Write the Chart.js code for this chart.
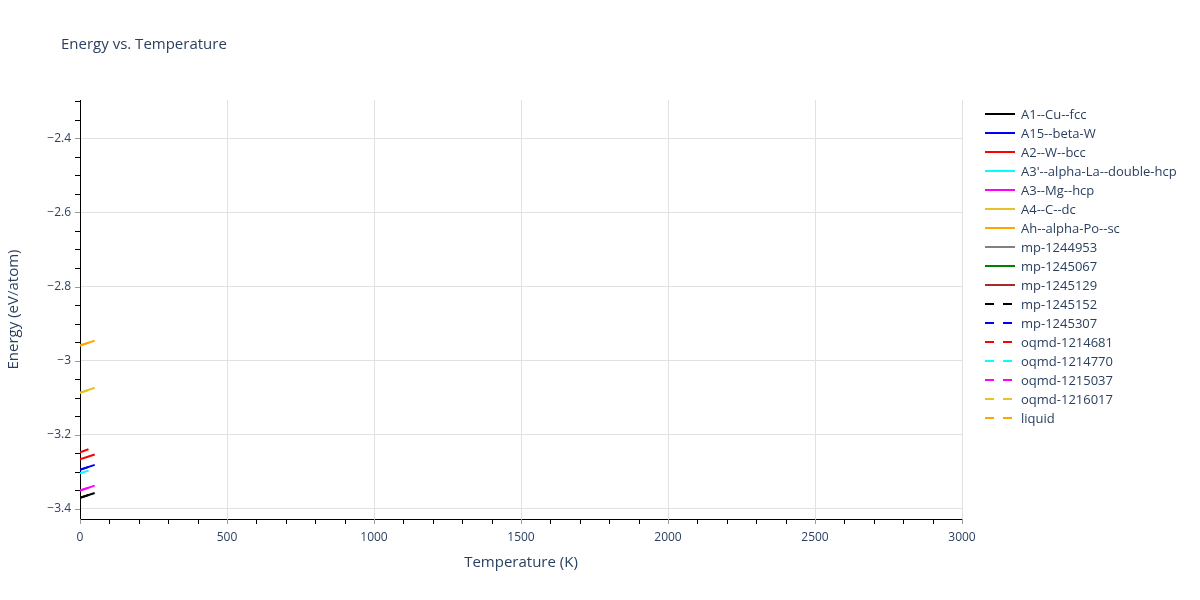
<!DOCTYPE html>
<html>
<head>
<meta charset="utf-8">
<script src="https://cdn.jsdelivr.net/npm/chart.js@4.4.0/dist/chart.umd.min.js"></script>
<style>
  html, body { margin: 0; padding: 0; background: #fff; }
  #wrap { width: 1200px; height: 600px; }
</style>
</head>
<body>
<div id="wrap"><canvas id="energyChart" width="1200" height="600"></canvas></div>
<script>
// phases, in legend order
const seriesNames = [
	'A1--Cu--fcc', 'A15--beta-W', 'A2--W--bcc', "A3'--alpha-La--double-hcp",
	'A3--Mg--hcp', 'A4--C--dc', 'Ah--alpha-Po--sc', 'mp-1244953', 'mp-1245067',
	'mp-1245129', 'mp-1245152', 'mp-1245307', 'oqmd-1214681', 'oqmd-1214770',
	'oqmd-1215037', 'oqmd-1216017', 'liquid'
];
const seriesColors = [
	'#000000', '#0000ff', '#ff0000', '#00ffff', '#ff00ff', '#e8c22c', '#ffa500',
	'#808080', '#008000', '#a52a2a', '#000000', '#0000ff', '#ff0000', '#00ffff',
	'#ff00ff', '#e8c22c', '#ffa500'
];
const seriesDashed = [
	false, false, false, false, false, false, false, false, false, false,
	true, true, true, true, true, true, true
];

// temperature (K) and energy (eV/atom)
const temperatures = [0, 50];
const energyA1 = [-3.370, -3.357];
const energyA15 = [-3.294, -3.281];
const energyA2 = [-3.266, -3.253];
const energyA3prime = [];
const energyA3 = [-3.350, -3.337];
const energyA4 = [-3.087, -3.073];
const energyAh = [-2.959, -2.946];
const energyMp1244953 = [];
const energyMp1245067 = [];
const energyMp1245129 = [];
const energyMp1245152 = [-3.370, -3.357];
const energyMp1245307 = [-3.294, -3.281];
const energyOqmd1214681 = [-3.247, -3.233];
const energyOqmd1214770 = [-3.304, -3.291];
const energyOqmd1215037 = [-3.350, -3.337];
const energyOqmd1216017 = [-3.087, -3.073];
const energyLiquid = [-2.959, -2.946];

const allEnergies = [
	energyA1, energyA15, energyA2, energyA3prime, energyA3, energyA4, energyAh,
	energyMp1244953, energyMp1245067, energyMp1245129, energyMp1245152,
	energyMp1245307, energyOqmd1214681, energyOqmd1214770, energyOqmd1215037,
	energyOqmd1216017, energyLiquid
];

const xTicks = [0, 500, 1000, 1500, 2000, 2500, 3000];
const yTicks = [-3.4, -3.2, -3, -2.8, -2.6, -2.4];

const textColor = '#2a3f5f';
const fontFamily = '"Open Sans", "DejaVu Sans", sans-serif';

function toPoints(values) {
	return values.map((v, i) => ({ x: temperatures[i], y: v }));
}

const datasets = seriesNames.map((name, i) => ({
	label: name,
	data: toPoints(allEnergies[i]),
	borderColor: seriesColors[i],
	borderWidth: 2,
	borderDash: seriesDashed[i] ? [9, 9] : [],
	pointRadius: 0,
	fill: false,
	order: -i  // later traces drawn on top, like the original
}));

// title, axis titles, outside ticks and the legend
const decorations = {
	id: 'decorations',
	afterDraw(chart) {
		const c = chart.ctx;
		const xs = chart.scales.x;
		const ys = chart.scales.y;
		const area = chart.chartArea;
		c.save();

		c.fillStyle = textColor;
		c.font = '15px ' + fontFamily;
		c.textAlign = 'left';
		c.textBaseline = 'middle';
		c.fillText('Energy vs. Temperature', 61, 45);

		c.font = '15px ' + fontFamily;
		c.textAlign = 'center';
		c.fillText('Temperature (K)', (area.left + area.right) / 2, 563);
		c.translate(14, (area.top + area.bottom) / 2);
		c.rotate(-Math.PI / 2);
		c.fillText('Energy (eV/atom)', 0, 0);
		c.setTransform(1, 0, 0, 1, 0, 0);

		// ticks outside the axis lines
		c.lineWidth = 1;
		for (let t = 0; t <= 3000; t += 100) {
			const px = Math.round(xs.getPixelForValue(t)) + 0.5;
			c.strokeStyle = t % 500 === 0 ? '#9a9a9a' : '#000';
			c.beginPath();
			c.moveTo(px, area.bottom);
			c.lineTo(px, area.bottom + 5);
			c.stroke();
		}
		for (let k = -68; k <= -46; k++) {
			const v = k * 0.05;
			if (v < ys.min || v > ys.max) continue;
			const py = Math.round(ys.getPixelForValue(v)) + 0.5;
			c.strokeStyle = k % 4 === 0 ? '#9a9a9a' : '#000';
			c.beginPath();
			c.moveTo(area.left - 5, py);
			c.lineTo(area.left, py);
			c.stroke();
		}

		// legend
		c.font = '13px ' + fontFamily;
		c.textAlign = 'left';
		seriesNames.forEach((name, i) => {
			const y = 114 + 19 * i;
			c.strokeStyle = seriesColors[i];
			c.lineWidth = 2;
			c.setLineDash(seriesDashed[i] ? [9, 9] : []);
			c.beginPath();
			c.moveTo(985, y);
			c.lineTo(1015, y);
			c.stroke();
			c.setLineDash([]);
			c.fillStyle = textColor;
			c.fillText(name, 1021, y + 1);
		});
		c.restore();
	}
};

const ctx = document.getElementById('energyChart').getContext('2d');
const chart = new Chart(ctx, {
	type: 'line',
	data: { datasets: datasets },
	options: {
		responsive: false,
		devicePixelRatio: 1,
		animation: false,
		layout: { padding: { left: 0, right: 238, top: 100, bottom: 0 } },
		plugins: {
			legend: { display: false },
			title: { display: false },
			tooltip: { enabled: false }
		},
		scales: {
			x: {
				type: 'linear',
				min: 0,
				max: 3000,
				afterBuildTicks: s => { s.ticks = xTicks.map(v => ({ value: v })); },
				afterFit: s => { s.height = 81; },
				grid: { color: '#e1e1e1', drawTicks: false },
				border: { color: '#000', width: 1 },
				ticks: {
					padding: 11,
					color: textColor,
					font: { family: fontFamily, size: 12 },
					maxRotation: 0,
					callback: v => String(v)
				}
			},
			y: {
				type: 'linear',
				min: -3.427,
				max: -2.297,
				afterBuildTicks: s => { s.ticks = yTicks.map(v => ({ value: v })); },
				afterFit: s => { s.width = 80; },
				grid: { color: '#e1e1e1', drawTicks: false },
				border: { color: '#000', width: 1 },
				ticks: {
					padding: 9,
					color: textColor,
					font: { family: fontFamily, size: 12 },
					callback: v => String(Math.round(v * 10) / 10).replace('-', '\u2212')
				}
			}
		}
	},
	plugins: [decorations]
});
</script>
</body>
</html>
